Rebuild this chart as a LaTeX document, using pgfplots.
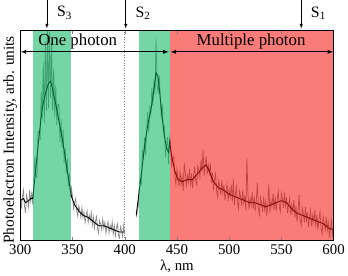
\documentclass[border=0pt]{standalone}
\usepackage{pgfplots}
\pgfplotsset{compat=1.18}
\usepackage{fontspec}
\setmainfont{Liberation Serif}
\definecolor{gband}{RGB}{0,180,90}
\definecolor{rband}{RGB}{245,15,10}
\begin{document}
\begin{tikzpicture}
\begin{axis}[
  scale only axis, width=317pt, height=212pt,
  xmin=300, xmax=600, ymin=0, ymax=1,
  xtick={300,350,...,600}, ytick=\empty,
  tick align=inside, xtick pos=both,
  major tick length=3pt,
  /pgf/number format/assume math mode=true,
  tick label style={font=\fontsize{15}{17}\selectfont},
  xticklabel style={yshift=-1pt},
  xlabel={λ, nm},
  xlabel style={font=\fontsize{15}{17}\selectfont, yshift=2pt},
  ylabel={Photoelectron Intensity, arb. units},
  ylabel style={font=\fontsize{15.5}{17}\selectfont, at={(axis description cs:-0.032,0.48)}, anchor=center},
  axis line style={line width=0.9pt},
  clip=false,
  axis on top,
]
% raw noisy spectrum
\addplot[black, opacity=0.45, line width=0.75pt] table {
x y
300 0.22
301 0.15
302 0.205
303 0.24
304 0.165
305 0.13
306 0.215
307 0.195
308 0.16
309 0.24
310 0.185
311 0.225
312 0.17
313 0.28
314 0.40
315 0.30
316 0.30
317 0.52
318 0.52
319 0.48
320 0.71
321 0.58
322 0.85
323 0.56
324 0.95
325 0.62
326 1.00
327 0.63
328 0.995
329 0.68
330 0.94
331 0.62
332 0.82
333 0.59
334 0.74
335 0.55
336 0.65
337 0.65
338 0.47
339 0.58
340 0.44
341 0.53
342 0.37
343 0.44
344 0.32
345 0.39
346 0.26
347 0.32
348 0.21
349 0.25
350 0.211
351 0.152
352 0.18
353 0.20
354 0.142
355 0.115
356 0.165
357 0.142
358 0.109
359 0.157
360 0.11
361 0.136
362 0.084
363 0.118
364 0.14
365 0.085
366 0.12
367 0.095
368 0.133
369 0.073
370 0.111
371 0.058
372 0.092
373 0.113
374 0.056
375 0.035
376 0.095
377 0.077
378 0.049
379 0.102
380 0.06
381 0.086
382 0.034
383 0.068
384 0.09
385 0.035
386 0.072
387 0.049
388 0.089
389 0.031
390 0.071
391 0.02
392 0.056
393 0.079
394 0.024
395 0.012
396 0.065
397 0.047
398 0.019
399 0.072
400 0.03
};
\addplot[black, opacity=0.45, line width=0.75pt] table {
x y
411 0.11
412 0.14
413 0.16
414 0.27
415 0.296
416 0.272
417 0.432
418 0.386
419 0.49
420 0.408
421 0.528
422 0.614
423 0.514
424 0.632
425 0.604
426 0.73
427 0.642
428 0.768
429 0.696
430 0.96
431 0.75
432 0.70
433 0.786
434 0.696
435 0.582
436 0.652
437 0.516
438 0.54
439 0.398
440 0.448
441 0.494
442 0.364
443 0.49
444 0.46
445 0.36
446 0.392
447 0.403
448 0.305
449 0.267
450 0.338
451 0.30
452 0.258
453 0.33
454 0.268
455 0.305
456 0.237
457 0.369
458 0.326
459 0.253
460 0.31
461 0.28
462 0.34
463 0.26
464 0.32
465 0.25
466 0.311
467 0.352
468 0.283
469 0.264
470 0.355
471 0.336
472 0.302
473 0.383
474 0.329
475 0.435
476 0.308
477 0.362
478 0.40
479 0.315
480 0.36
481 0.32
482 0.368
483 0.275
484 0.323
485 0.24
486 0.289
487 0.318
488 0.237
489 0.206
490 0.285
491 0.258
492 0.216
493 0.289
494 0.227
495 0.265
496 0.191
497 0.237
498 0.268
499 0.189
500 0.24
501 0.208
502 0.266
503 0.184
504 0.292
505 0.17
506 0.223
507 0.256
508 0.179
509 0.152
510 0.235
511 0.208
512 0.166
513 0.239
514 0.177
515 0.215
516 0.143
517 0.391
518 0.224
519 0.147
520 0.20
521 0.17
522 0.23
523 0.15
524 0.21
525 0.14
526 0.193
527 0.276
528 0.149
529 0.122
530 0.205
531 0.178
532 0.136
533 0.209
534 0.147
535 0.185
536 0.117
537 0.169
538 0.266
539 0.133
540 0.19
541 0.162
542 0.224
543 0.146
544 0.208
545 0.14
546 0.197
547 0.234
548 0.161
549 0.138
550 0.225
551 0.198
552 0.156
553 0.229
554 0.167
555 0.205
556 0.129
557 0.173
558 0.202
559 0.121
560 0.17
561 0.136
562 0.192
563 0.108
564 0.164
565 0.09
566 0.143
567 0.216
568 0.099
569 0.072
570 0.155
571 0.128
572 0.086
573 0.159
574 0.097
575 0.135
576 0.063
577 0.111
578 0.144
579 0.067
580 0.12
581 0.088
582 0.146
583 0.064
584 0.122
585 0.05
586 0.103
587 0.136
588 0.059
589 0.032
590 0.115
591 0.086
592 0.042
593 0.113
594 0.049
595 0.085
596 0.013
597 0.061
598 0.094
599 0.017
600 0.07
};
% averaged line
\addplot[black, line width=0.9pt] table {
x y
300 0.19
303 0.20
305 0.18
308 0.19
310 0.20
312 0.20
315 0.35
318 0.50
321 0.63
324 0.70
327 0.75
329 0.76
331 0.72
334 0.65
337 0.57
340 0.49
343 0.40
346 0.30
349 0.21
352 0.17
356 0.14
360 0.12
365 0.11
370 0.09
375 0.07
380 0.07
385 0.06
390 0.05
395 0.04
400 0.04
};
\addplot[black, line width=0.9pt] table {
x y
411 0.12
413 0.20
416 0.32
419 0.45
422 0.55
425 0.62
428 0.72
430 0.80
432 0.78
434 0.68
436 0.58
438 0.50
440 0.44
442 0.42
443 0.47
445 0.40
448 0.33
451 0.29
455 0.28
460 0.29
465 0.29
470 0.32
475 0.35
478 0.36
481 0.33
485 0.28
490 0.25
495 0.24
500 0.22
505 0.21
510 0.20
515 0.19
520 0.18
525 0.18
530 0.17
535 0.16
540 0.17
545 0.18
550 0.19
555 0.18
560 0.15
565 0.13
570 0.12
575 0.11
580 0.10
585 0.09
590 0.08
595 0.06
600 0.05
};
% shaded bands
\fill[gband, fill opacity=0.55] (axis cs:312,0) rectangle (axis cs:349,1);
\fill[gband, fill opacity=0.55] (axis cs:414,0) rectangle (axis cs:443,1);
\fill[rband, fill opacity=0.55] (axis cs:443,0) rectangle (axis cs:600,1);
% dotted line
\draw[gray, dotted, line width=0.6pt] (axis cs:400,0) -- (axis cs:400,1);
% region arrows
\draw[<->, >=latex, line width=0.9pt] (axis cs:300.5,0.90) -- (axis cs:442,0.90);
\draw[<->, >=latex, line width=0.9pt] (axis cs:444,0.90) -- (axis cs:599.5,0.90);
\node[font=\fontsize{17}{19}\selectfont] at (axis cs:355,0.948) {One photon};
\node[font=\fontsize{17}{19}\selectfont] at (axis cs:521,0.948) {Multiple photon};
% S arrows
\draw[->, >=latex, line width=0.6pt] (axis cs:325.5,1.146) -- (axis cs:325.5,1.012);
\draw[->, >=latex, line width=0.6pt] (axis cs:401,1.146) -- (axis cs:401,1.012);
\draw[->, >=latex, line width=0.6pt] (axis cs:569,1.146) -- (axis cs:569,1.012);
\node[font=\fontsize{16}{18}\selectfont, anchor=west] at (axis cs:332,1.085) {S\textsubscript{3}};
\node[font=\fontsize{16}{18}\selectfont, anchor=west] at (axis cs:407,1.085) {S\textsubscript{2}};
\node[font=\fontsize{16}{18}\selectfont, anchor=west] at (axis cs:575,1.085) {S\textsubscript{1}};
\end{axis}
\end{tikzpicture}
\end{document}
